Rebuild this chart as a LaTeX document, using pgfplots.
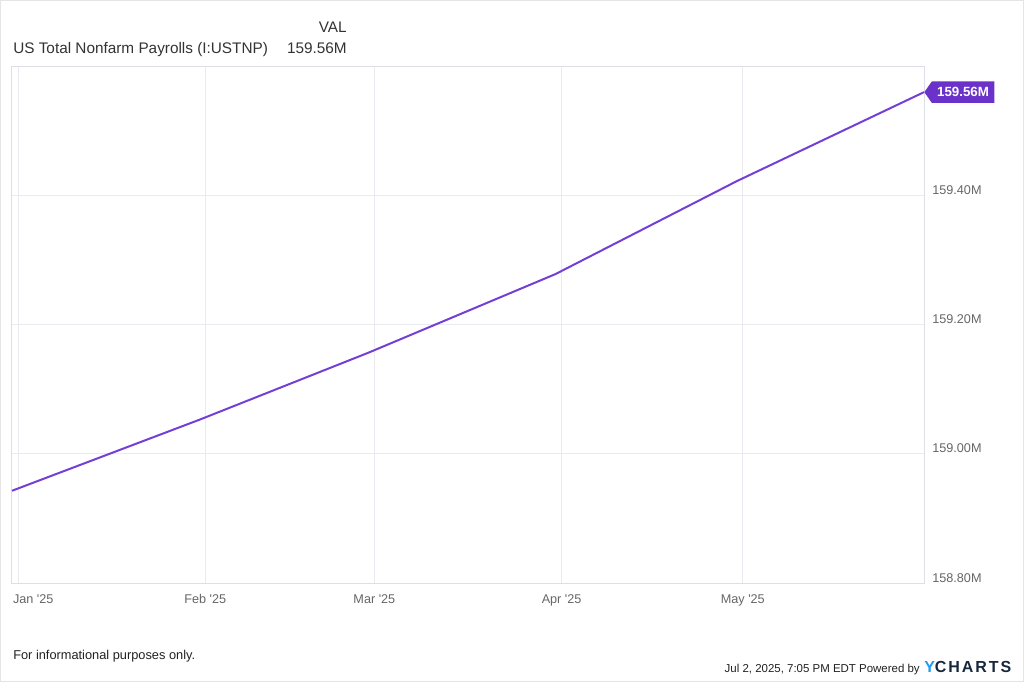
\documentclass[border=0pt]{standalone}
\usepackage{pgfplots}
\pgfplotsset{compat=1.18}
\usepackage{fontspec}
\setmainfont{Liberation Sans}
\newfontfamily\logofont[LetterSpace=12]{Liberation Sans}
\usetikzlibrary{shapes.symbols}
\definecolor{lineP}{RGB}{116,63,212}
\definecolor{tagP}{RGB}{106,50,200}
\definecolor{gridc}{RGB}{234,234,240}
\definecolor{framec}{RGB}{222,222,232}
\definecolor{tickc}{RGB}{102,102,102}
\definecolor{titlec}{RGB}{51,51,51}
\definecolor{footc}{RGB}{34,34,34}
\definecolor{ylogo}{RGB}{30,155,240}
\definecolor{clogo}{RGB}{22,40,62}
\pgfplotstableread{
x y
-1 158.943
30 159.053
58 159.157
89 159.279
119 159.423
150 159.561
}\payrolls
\begin{document}
\begin{tikzpicture}
\path[use as bounding box] (0pt,0pt) rectangle (768pt,511.5pt);
\draw[color=gray!20, line width=0.75pt] (0.4pt,0.4pt) rectangle (767.6pt,511.1pt);
\begin{axis}[
  at={(9pt,74.25pt)}, anchor=south west,
  scale only axis, width=684pt, height=387pt,
  xmin=-1, xmax=150, ymin=158.8, ymax=159.6,
  xtick={0,31,59,90,120},
  xticklabels={{\makebox[0pt][l]{\hspace{-3.75pt}Jan \textquotesingle25}},Feb \textquotesingle25,Mar \textquotesingle25,Apr \textquotesingle25,May \textquotesingle25},
  ytick={158.8,159.0,159.2,159.4},
  yticklabels={158.80M,159.00M,159.20M,159.40M},
  yticklabel pos=right,
  tick style={draw=none},
  grid=major,
  major grid style={color=gridc, line width=0.75pt},
  axis line style={color=framec, line width=0.75pt},
  xticklabel style={anchor=base, inner sep=0pt, yshift=-15pt, font=\fontsize{9.5pt}{11pt}\selectfont, text=tickc},
  yticklabel style={anchor=base west, inner sep=0pt, xshift=6pt, yshift=0.75pt, font=\fontsize{9.5pt}{11pt}\selectfont, text=tickc},
  clip=false,
]
\addplot[color=lineP, line width=1.5pt] table[x=x,y=y] {\payrolls};
\node[signal, signal to=west, fill=tagP, text=white, font=\bfseries\fontsize{10pt}{11pt}\selectfont,
  anchor=west, inner xsep=4pt, inner ysep=3pt, minimum height=16pt, signal pointer angle=110]
  at (axis cs:150,159.561) {159.56M};
\end{axis}
\node[anchor=base east, text=titlec, font=\fontsize{11.5pt}{13pt}\selectfont, inner sep=0pt] at (260.25pt,486.75pt) {VAL};
\node[anchor=base west, text=titlec, font=\fontsize{11.5pt}{13pt}\selectfont, inner sep=0pt] at (9.75pt,471pt) {US Total Nonfarm Payrolls (I:USTNP)};
\node[anchor=base east, text=titlec, font=\fontsize{11.5pt}{13pt}\selectfont, inner sep=0pt] at (260.25pt,471pt) {159.56M};
\node[anchor=base west, text=footc, font=\fontsize{9.6pt}{12pt}\selectfont, inner sep=0pt] at (9.75pt,17.25pt) {For informational purposes only.};
\node[anchor=base east, text=footc, font=\fontsize{8.6pt}{11pt}\selectfont, inner sep=0pt] at (690pt,7.5pt) {Jul 2, 2025, 7:05 PM EDT Powered by};
\node[anchor=base west, font=\logofont\bfseries\fontsize{12pt}{13pt}\selectfont, inner sep=0pt] at (693pt,7.5pt) {\textcolor{ylogo}{Y}\textcolor{clogo}{CHARTS}};
\end{tikzpicture}
\end{document}
